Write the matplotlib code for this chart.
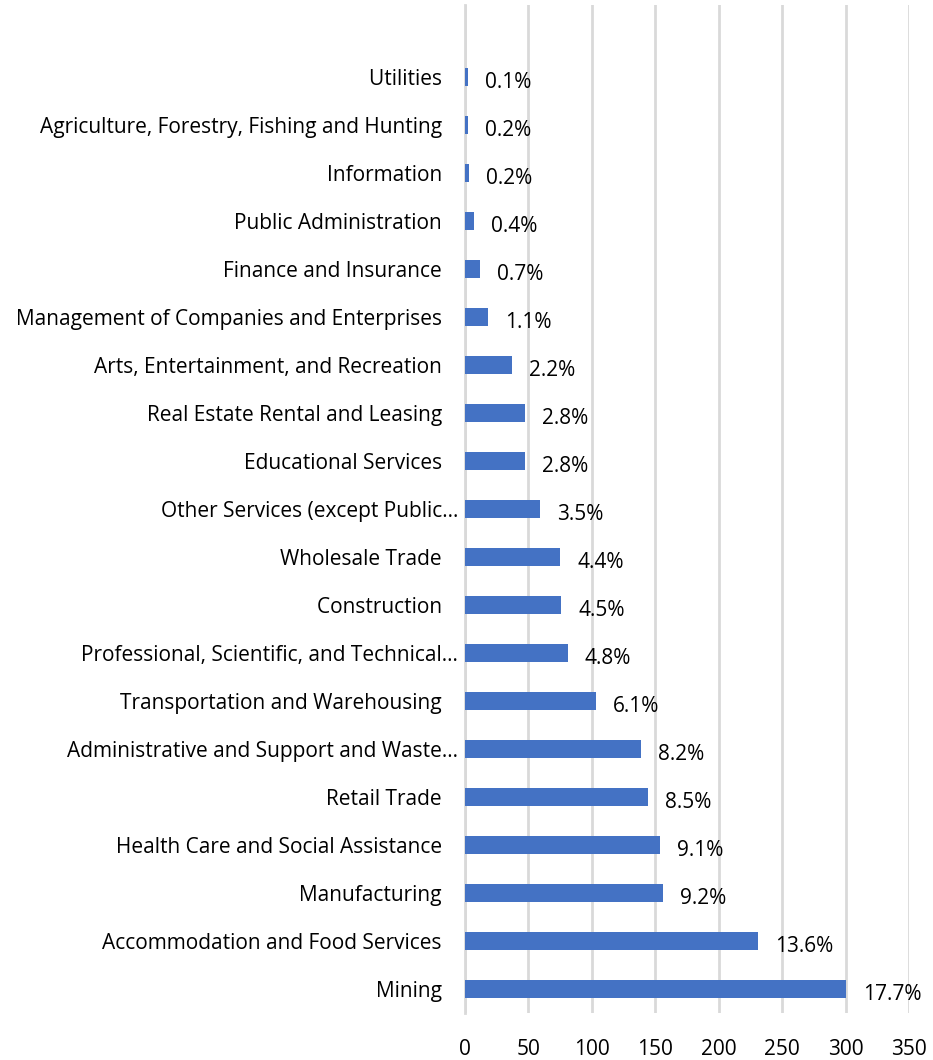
import matplotlib
matplotlib.use("Agg")
import matplotlib.pyplot as plt
from matplotlib.transforms import offset_copy

plt.rcParams['font.family'] = ['Open Sans', 'DejaVu Sans']

categories = [
    "Mining",
    "Accommodation and Food Services",
    "Manufacturing",
    "Health Care and Social Assistance",
    "Retail Trade",
    "Administrative and Support and Waste…",
    "Transportation and Warehousing",
    "Professional, Scientific, and Technical…",
    "Construction",
    "Wholesale Trade",
    "Other Services (except Public…",
    "Educational Services",
    "Real Estate Rental and Leasing",
    "Arts, Entertainment, and Recreation",
    "Management of Companies and Enterprises",
    "Finance and Insurance",
    "Public Administration",
    "Information",
    "Agriculture, Forestry, Fishing and Hunting",
    "Utilities",
]
values = [300, 231, 156, 154, 144, 139, 103, 81, 76, 75, 59, 47, 47, 37, 18, 12, 7, 3.5, 2.5, 2]
pct_labels = ["17.7%", "13.6%", "9.2%", "9.1%", "8.5%", "8.2%", "6.1%", "4.8%", "4.5%", "4.4%",
              "3.5%", "2.8%", "2.8%", "2.2%", "1.1%", "0.7%", "0.4%", "0.2%", "0.2%", "0.1%"]
xticks = [0, 50, 100, 150, 200, 250, 300, 350]

W, H = 933, 1060
fig = plt.figure(figsize=(W / 100, H / 100), dpi=100)
ax = fig.add_axes([465 / W, 1 - 1013 / H, (909 - 465) / W, (1013 - 5) / H])

pos = list(range(len(categories)))
ax.barh(pos, values, height=0.375, color="#4472C4", zorder=3)
ax.set_xlim(0, 350)
ax.set_ylim(-0.5, 20.5)
ax.set_xticks(xticks)
ax.set_xticklabels([str(t) for t in xticks], fontsize=15)
ax.set_yticks(pos)
ylabels = [c if c.endswith("…") else c + "   " for c in categories]
ax.set_yticklabels(ylabels, fontsize=15, color="#000000")
ax.tick_params(axis="both", length=0)
ax.tick_params(axis="x", pad=19)
ax.tick_params(axis="y", pad=5)
ax.grid(axis="x", color="#D9D9D9", linewidth=2, zorder=0)
for s in ["top", "right", "bottom"]:
    ax.spines[s].set_visible(False)
ax.spines["left"].set_color("#D9D9D9")
ax.spines["left"].set_linewidth(2)

for p, v, lab in zip(pos, values, pct_labels):
    tr = offset_copy(ax.transData, fig=fig, x=17, y=-5, units="dots")
    ax.text(v, p, lab, transform=tr, ha="left", va="center", fontsize=15, color="#000000")

fig.savefig("out.png", dpi=100)
